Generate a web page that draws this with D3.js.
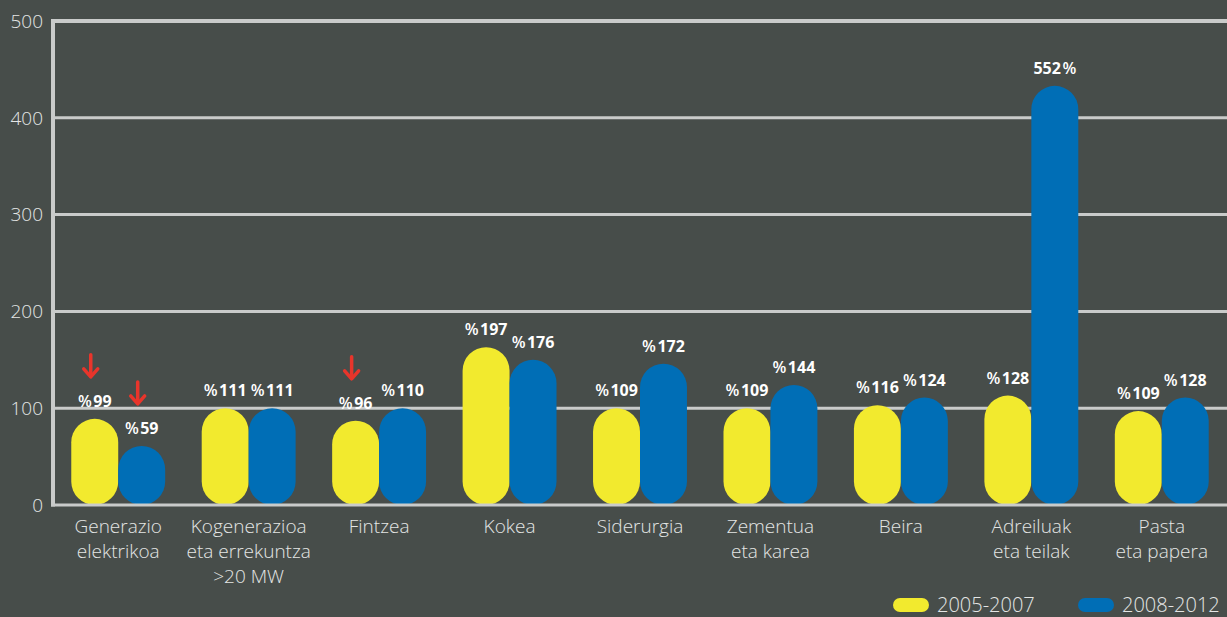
<!DOCTYPE html>
<html>
<head>
<meta charset="utf-8">
<script src="https://cdn.jsdelivr.net/npm/d3@7"></script>
<style>
  html, body { margin: 0; padding: 0; background: #474d4a; }
  svg { display: block; }
</style>
</head>
<body>
<svg id="chart" width="1227" height="617"></svg>
<script>
// data
var categories = [
  ["Generazio", "elektrikoa"],
  ["Kogenerazioa", "eta errekuntza", ">20 MW"],
  ["Fintzea"],
  ["Kokea"],
  ["Siderurgia"],
  ["Zementua", "eta karea"],
  ["Beira"],
  ["Adreiluak", "eta teilak"],
  ["Pasta", "eta papera"]
];
var series = ["2005-2007", "2008-2012"];
var values0507 = [89, 100, 87, 163, 100, 100, 103, 113, 97];
var values0812 = [61, 100, 100, 150, 146, 124, 111, 433, 111];
var labels0507 = ["%99", "%111", "%96", "%197", "%109", "%109", "%116", "%128", "%109"];
var labels0812 = ["%59", "%111", "%110", "%176", "%172", "%144", "%124", "552%", "%128"];
var arrows0507 = [true, false, true, false, false, false, false, false, false];
var arrows0812 = [true, false, false, false, false, false, false, false, false];
var yTicks = [0, 100, 200, 300, 400, 500];
var colors = ["#f2ea2e", "#006eb6"];

var svg = d3.select("#chart");
var mLeft = 53, mRight = 1227, mTop = 21, mBottom = 505;

var x = d3.scaleBand().domain(d3.range(categories.length)).range([mLeft, mRight]).paddingInner(0.28).paddingOuter(0.14);
var xs = d3.scaleBand().domain([0, 1]).range([0, x.bandwidth()]);
var y = d3.scaleLinear().domain([0, 500]).range([mBottom, mTop]);

// gridlines
svg.append("g").selectAll("line").data(yTicks.filter(function(d){ return d > 0; }))
  .enter().append("line")
  .attr("x1", mLeft).attr("x2", mRight)
  .attr("y1", function(d){ return y(d); }).attr("y2", function(d){ return y(d); })
  .attr("stroke", "#c9cbca")
  .attr("stroke-width", function(d){ return d == 500 ? 4 : 3; });

// left axis line
svg.append("line").attr("x1", mLeft).attr("x2", mLeft).attr("y1", mTop - 2).attr("y2", mBottom + 1.5)
  .attr("stroke", "#c9cbca").attr("stroke-width", 4);

// y tick labels
svg.append("g").selectAll("text").data(yTicks).enter().append("text")
  .attr("x", 43).attr("y", function(d){ return y(d); })
  .attr("dy", "0.36em")
  .attr("text-anchor", "end")
  .attr("fill", "#e4e6e5")
  .style("font", "300 19px 'Open Sans', sans-serif")
  .text(function(d){ return d; });

// bars
var rows = categories.map(function(c, i){
  return [
    {i: i, s: 0, v: values0507[i], label: labels0507[i], arrow: arrows0507[i]},
    {i: i, s: 1, v: values0812[i], label: labels0812[i], arrow: arrows0812[i]}
  ];
});
var flat = [].concat.apply([], rows);
var bw = xs.bandwidth();

svg.append("g").selectAll("rect").data(flat).enter().append("rect")
  .attr("x", function(d){ return x(d.i) + xs(d.s); })
  .attr("y", function(d){ return y(d.v); })
  .attr("width", bw)
  .attr("height", function(d){ return mBottom - y(d.v); })
  .attr("rx", bw / 2).attr("ry", bw / 2)
  .attr("fill", function(d){ return colors[d.s]; });

// bottom axis on top of bars
svg.append("line").attr("x1", mLeft - 2).attr("x2", mRight).attr("y1", mBottom).attr("y2", mBottom)
  .attr("stroke", "#c9cbca").attr("stroke-width", 3);

// value labels (small gap between % and number)
var valText = svg.append("g").selectAll("text").data(flat).enter().append("text")
  .attr("x", function(d){ return x(d.i) + xs(d.s) + bw / 2; })
  .attr("y", function(d){ return y(d.v) - 12; })
  .attr("text-anchor", "middle")
  .attr("fill", "#ffffff")
  .style("font", "bold 16px 'Open Sans', sans-serif");
valText.selectAll("tspan").data(function(d){
    return d.label.charAt(0) == "%" ? ["%", d.label.slice(1)] : [d.label.slice(0, -1), "%"];
  }).enter().append("tspan")
  .attr("dx", function(d, j){ return j == 0 ? 0 : 1.5; })
  .style("font-weight", function(d){ return d == "%" ? "600" : "bold"; })
  .text(function(d){ return d; });

// red arrows
var arrowG = svg.append("g").selectAll("g").data(flat.filter(function(d){ return d.arrow; }))
  .enter().append("g")
  .attr("transform", function(d){
    return "translate(" + (x(d.i) + xs(d.s) + bw / 2 - 4) + "," + (y(d.v) - 64) + ")";
  });
arrowG.append("line").attr("x1", 0).attr("x2", 0).attr("y1", 0).attr("y2", 20)
  .attr("stroke", "#e8352b").attr("stroke-width", 3.5).attr("stroke-linecap", "round");
arrowG.append("path").attr("d", "M-7,14 L0,22 L7,14")
  .attr("fill", "none").attr("stroke", "#e8352b").attr("stroke-width", 3.5)
  .attr("stroke-linecap", "round").attr("stroke-linejoin", "round");

// category labels
var catG = svg.append("g").selectAll("text").data(categories).enter().append("text")
  .attr("x", function(d, i){ return x(i) + x.bandwidth() / 2; })
  .attr("y", 533)
  .attr("text-anchor", "middle")
  .attr("fill", "#e4e6e5")
  .style("font", "300 19px 'Open Sans', sans-serif");
catG.selectAll("tspan").data(function(d){ return d; }).enter().append("tspan")
  .attr("x", function(){ return d3.select(this.parentNode).attr("x"); })
  .attr("dy", function(d, j){ return j == 0 ? 0 : 25; })
  .text(function(d){ return d; });

// legend
var legendX = [893, 1078];
var leg = svg.append("g").selectAll("g").data(series).enter().append("g")
  .attr("transform", function(d, i){ return "translate(" + legendX[i] + ",598)"; });
leg.append("rect").attr("width", 36).attr("height", 14).attr("rx", 7).attr("ry", 7)
  .attr("fill", function(d, i){ return colors[i]; });
leg.append("text").attr("x", 44).attr("y", 7).attr("dy", "0.36em")
  .attr("fill", "#e4e6e5")
  .style("font", "300 20px 'Open Sans', sans-serif")
  .text(function(d){ return d; });
</script>
</body>
</html>
